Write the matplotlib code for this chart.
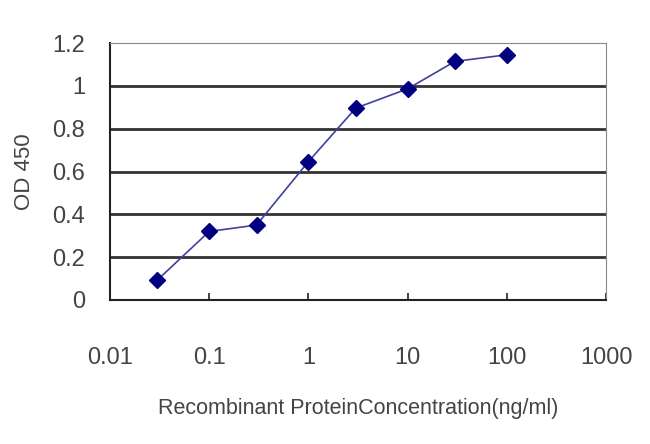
import matplotlib.pyplot as plt

conc = [0.03, 0.1, 0.3, 1, 3, 10, 30, 100]
od = [0.093, 0.32, 0.35, 0.646, 0.896, 0.986, 1.114, 1.145]
x_ticks = [0.01, 0.1, 1, 10, 100, 1000]
x_labels = ['0.01', '0.1', '1', '10', '100', '1000']
y_ticks = [0, 0.2, 0.4, 0.6, 0.8, 1, 1.2]
y_labels = ['0', '0.2', '0.4', '0.6', '0.8', '1', '1.2']

plt.rcParams['font.family'] = ['Liberation Sans', 'DejaVu Sans']

fig = plt.figure(figsize=(6.5, 4.44), dpi=100)
ax = fig.add_axes([110 / 650, 1 - 300 / 444, 496 / 650, 257 / 444])

for y in y_ticks[1:-1]:
    ax.axhline(y, color='#333333', lw=2, zorder=1)

ax.plot(conc, od, color='#4040a0', lw=1.2, marker='D', markersize=8,
        markerfacecolor='#000080', markeredgecolor='#000080', zorder=3)

ax.set_xscale('log')
ax.set_xlim(0.01, 1000)
ax.set_ylim(0, 1.2)
ax.set_xticks(x_ticks)
ax.set_xticklabels(x_labels)
ax.minorticks_off()
ax.set_yticks(y_ticks)
ax.set_yticklabels(y_labels)

ax.spines['left'].set_color('#222222')
ax.spines['bottom'].set_color('#222222')
ax.spines['left'].set_linewidth(1.5)
ax.spines['bottom'].set_linewidth(1.5)
ax.spines['top'].set_color('#888888')
ax.spines['right'].set_color('#888888')

ax.tick_params(axis='x', direction='in', length=5, width=1.2, color='#222222',
               labelsize=17, labelcolor='#444444', pad=34)
ax.tick_params(axis='y', length=0, labelsize=17, labelcolor='#444444', pad=18)

ax.set_ylabel('OD 450', fontsize=16, color='#444444', labelpad=12)
ax.set_xlabel('Recombinant ProteinConcentration(ng/ml)', fontsize=15.5,
              color='#444444', labelpad=21)

fig.savefig('out.png', dpi=100)
